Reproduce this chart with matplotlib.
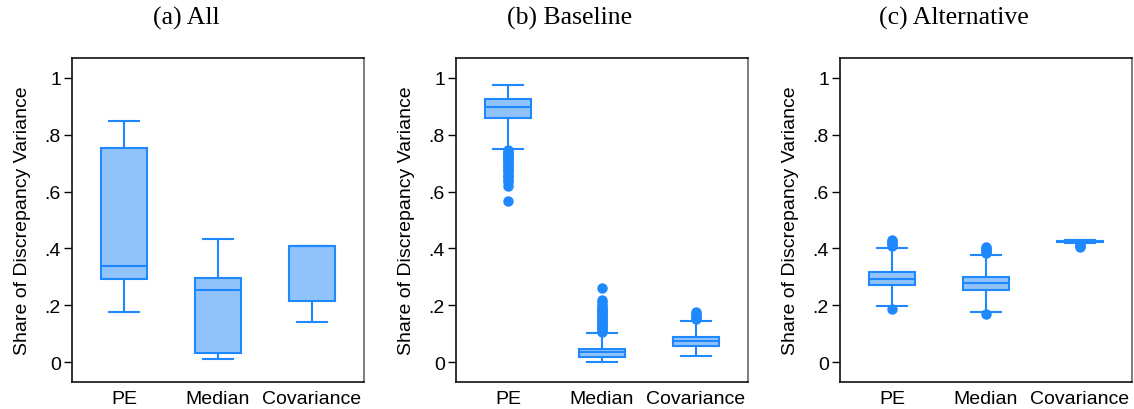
import matplotlib
matplotlib.use("Agg")
import matplotlib.pyplot as plt

# Categories and panel titles
categories = ["PE", "Median", "Covariance"]
titles = ["(a) All", "(b) Baseline", "(c) Alternative"]

# Box statistics per panel: (whislo, q1, med, q3, whishi) for PE, Median, Covariance
all_stats = [
    (0.177, 0.292, 0.337, 0.752, 0.847),
    (0.011, 0.033, 0.254, 0.296, 0.433),
    (0.140, 0.215, 0.407, 0.408, 0.410),
]
all_fliers = [[], [], []]

baseline_stats = [
    (0.750, 0.859, 0.899, 0.926, 0.975),
    (0.001, 0.019, 0.034, 0.046, 0.102),
    (0.020, 0.057, 0.074, 0.089, 0.146),
]
baseline_fliers = [
    [0.745, 0.74, 0.735, 0.73, 0.725, 0.72, 0.715, 0.71, 0.705, 0.70, 0.69,
     0.685, 0.68, 0.675, 0.67, 0.66, 0.655, 0.65, 0.64, 0.635, 0.62, 0.568],
    [0.105, 0.11, 0.115, 0.12, 0.125, 0.13, 0.135, 0.14, 0.145, 0.15, 0.155,
     0.16, 0.165, 0.17, 0.175, 0.18, 0.185, 0.19, 0.195, 0.20, 0.21, 0.22, 0.26],
    [0.15, 0.155, 0.16, 0.165, 0.17, 0.175],
]

alternative_stats = [
    (0.198, 0.271, 0.294, 0.318, 0.400),
    (0.175, 0.254, 0.278, 0.300, 0.378),
    (0.420, 0.424, 0.426, 0.427, 0.429),
]
alternative_fliers = [
    [0.41, 0.415, 0.42, 0.425, 0.43, 0.187],
    [0.385, 0.39, 0.395, 0.40, 0.405, 0.171],
    [0.405, 0.41, 0.415],
]

yticks = [0, 0.2, 0.4, 0.6, 0.8, 1.0]
yticklabels = ["0", ".2", ".4", ".6", ".8", "1"]

edge = "#1e88ff"
fill = "#91c3fb"

panels = [
    (all_stats, all_fliers),
    (baseline_stats, baseline_fliers),
    (alternative_stats, alternative_fliers),
]

fig = plt.figure(figsize=(11.34, 4.10), dpi=100)
lefts = [72, 456, 840]
title_centers = [186, 570, 954]

for i, (stats, fliers) in enumerate(panels):
    ax = fig.add_axes([lefts[i] / 1134, 27 / 410, 292 / 1134, 324 / 410])
    bxp_stats = []
    for (lo, q1, med, q3, hi), fl in zip(stats, fliers):
        bxp_stats.append(dict(whislo=lo, q1=q1, med=med, q3=q3, whishi=hi, fliers=fl))
    ax.bxp(bxp_stats, positions=[1, 2, 3], widths=0.48, patch_artist=True,
           boxprops=dict(facecolor=fill, edgecolor=edge, linewidth=1.5),
           medianprops=dict(color=edge, linewidth=1.5),
           whiskerprops=dict(color=edge, linewidth=1.5),
           capprops=dict(color=edge, linewidth=1.5),
           capwidths=0.32,
           flierprops=dict(marker="o", markerfacecolor=edge, markeredgecolor=edge,
                           markersize=6.5, linestyle="none"))
    ax.set_xlim(0.447, 3.553)
    ax.set_ylim(-0.07, 1.07)
    ax.set_yticks(yticks)
    ax.set_yticklabels(yticklabels, fontsize=14, family="Liberation Sans")
    ax.set_xticks([1, 2, 3])
    ax.set_xticklabels(categories, fontsize=14, family="Liberation Sans")
    ax.tick_params(axis="y", length=6, width=1, pad=2)
    ax.tick_params(axis="x", length=0, pad=6)
    ax.set_ylabel("Share of Discrepancy Variance", fontsize=14, family="Liberation Sans", labelpad=10)
    for s in ["left", "bottom", "top"]:
        ax.spines[s].set_linewidth(1.2)
        ax.spines[s].set_color("#111111")
    ax.spines["right"].set_linewidth(1.2)
    ax.spines["right"].set_color("#666666")
    fig.text(title_centers[i] / 1134, 1 - 18 / 410, titles[i], ha="center", va="center",
             fontsize=18.5, family="Liberation Serif")

fig.savefig("out.png", dpi=100)
